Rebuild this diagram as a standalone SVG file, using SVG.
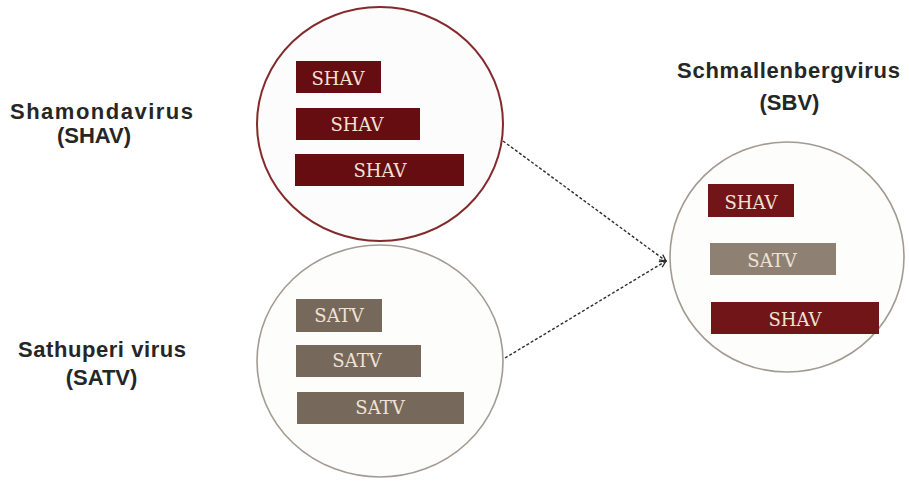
<svg xmlns="http://www.w3.org/2000/svg" width="909" height="481" viewBox="0 0 909 481">
<style>
.lbl{font-family:"Liberation Sans",Arial,sans-serif;font-weight:bold;font-size:22px;fill:#262626;text-anchor:middle}
.bt{font-family:"DejaVu Serif","Liberation Serif",serif;font-size:18px;fill:#f0e2d4;text-anchor:middle}
.shav{fill:#660d11}
.shav2{fill:#721518}
.satv{fill:#76685a}
.satv2{fill:#8e8173}
.conn{stroke:#2e2e2e;stroke-width:1.4;stroke-dasharray:3 2;fill:none}
</style>
<defs>
<marker id="arr" viewBox="0 0 10 10" refX="9" refY="5" markerWidth="8" markerHeight="8" orient="auto" markerUnits="userSpaceOnUse">
<path d="M1,1 L9,5 L1,9" fill="none" stroke="#2e2e2e" stroke-width="1.6"/>
</marker>
</defs>
<rect width="909" height="481" fill="#ffffff"/>

<g id="shav-node">
<ellipse cx="380" cy="124" rx="123" ry="117" fill="#fdfcfc" stroke="#842a2c" stroke-width="2"/>
<rect class="shav" x="296" y="61" width="85" height="32"/>
<text class="bt" x="338" y="85">SHAV</text>
<rect class="shav" x="296" y="108" width="124" height="32"/>
<text class="bt" x="357" y="131">SHAV</text>
<rect class="shav" x="295" y="154" width="169" height="32"/>
<text class="bt" x="380" y="177">SHAV</text>
</g>

<g id="satv-node">
<ellipse cx="380" cy="361" rx="123" ry="116" fill="#fdfdfc" stroke="#a39a92" stroke-width="1.6"/>
<rect class="satv" x="296" y="299" width="86" height="33"/>
<text class="bt" x="339" y="322">SATV</text>
<rect class="satv" x="296" y="345" width="125" height="32"/>
<text class="bt" x="357" y="367">SATV</text>
<rect class="satv" x="297" y="392" width="167" height="32" fill="#7b6d5f"/>
<text class="bt" x="380" y="414">SATV</text>
</g>

<g id="sbv-node">
<ellipse cx="787" cy="257" rx="117" ry="115" fill="#fdfdfc" stroke="#a39a92" stroke-width="1.6"/>
<rect class="shav2" x="708" y="184" width="86" height="33"/>
<text class="bt" x="751" y="209">SHAV</text>
<rect class="satv2" x="710" y="243" width="126" height="32"/>
<text class="bt" x="772" y="267">SATV</text>
<rect class="shav2" x="711" y="302" width="168" height="32"/>
<text class="bt" x="795" y="326">SHAV</text>
</g>

<g id="label-shav">
<text class="lbl" x="101.5" y="119" textLength="183" lengthAdjust="spacing">Shamondavirus</text>
<text class="lbl" x="94" y="143">(SHAV)</text>
</g>
<g id="label-satv">
<text class="lbl" x="102" y="357" textLength="168" lengthAdjust="spacing">Sathuperi virus</text>
<text class="lbl" x="101.5" y="385">(SATV)</text>
</g>
<g id="label-sbv">
<text class="lbl" x="788.5" y="78" textLength="223" lengthAdjust="spacing">Schmallenbergvirus</text>
<text class="lbl" x="789.5" y="110">(SBV)</text>
</g>

<g id="connectors">
<line class="conn" x1="503" y1="141" x2="666" y2="261" marker-end="url(#arr)"/>
<line class="conn" x1="505" y1="358" x2="666" y2="261" marker-end="url(#arr)"/>
</g>
</svg>
